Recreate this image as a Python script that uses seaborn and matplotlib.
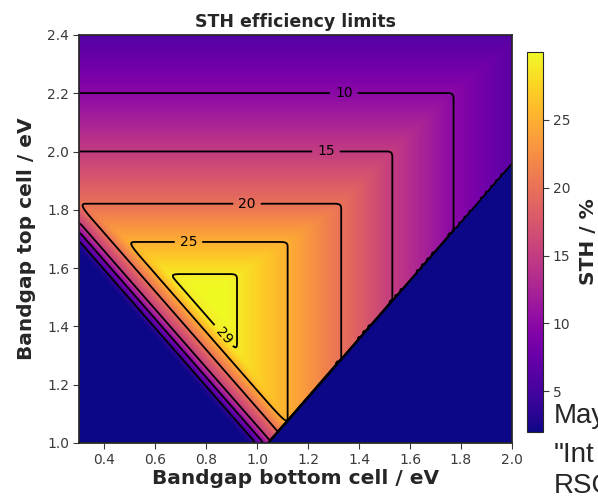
import numpy as np
import matplotlib
matplotlib.use('Agg')
import matplotlib.pyplot as plt
import seaborn as sns

# STH limit set by the top cell
top_gap = [1.0, 1.2, 1.4, 1.5, 1.58, 1.69, 1.82, 2.0, 2.2, 2.4]
top_sth = [45, 40, 34, 31.5, 29, 25, 20, 15, 10, 6]

# STH limit set by the bottom cell
bottom_gap = [0.3, 0.6, 0.8, 0.92, 1.12, 1.33, 1.53, 1.77, 2.0]
bottom_sth = [48, 38, 32, 29, 25, 20, 15, 10, 6.5]

# voltage limit vs. sum of both gaps (lower-left edge)
gap_sum = [1.97, 1.995, 2.025, 2.055, 2.12, 2.18, 2.23, 2.3, 4.5]
sum_sth = [2, 5, 10, 15, 20, 25, 29, 30, 30]

floor_sth = 2.0
overlap = 0.04   # top gap may sit this far below the bottom gap

plain_levels = [5]
label_levels = [10, 15, 20, 25, 29]
label_spots = [(1.34, 2.2), (1.27, 2.0), (0.96, 1.82), (0.73, 1.69), (0.87, 1.37)]

sns.set_theme(style='ticks')
plt.rcParams['font.family'] = ['DejaVu Sans']

eb = np.linspace(0.3, 2.0, 341)
et = np.linspace(1.0, 2.4, 281)
B, T = np.meshgrid(eb, et)
sth = np.minimum(np.interp(T, top_gap, top_sth), np.interp(B, bottom_gap, bottom_sth))
sth = np.minimum(sth, np.interp(B + T, gap_sum, sum_sth))

# round the corners a bit (small moving average)
k = np.ones(5) / 5
pad = np.pad(sth, 2, mode='edge')
pad = np.apply_along_axis(lambda r: np.convolve(r, k, mode='same'), 1, pad)
pad = np.apply_along_axis(lambda c: np.convolve(c, k, mode='same'), 0, pad)
sth = pad[2:-2, 2:-2]

sth[T < B - overlap] = floor_sth
sth = np.maximum(sth, floor_sth)

fig = plt.figure(figsize=(5.98, 4.97), dpi=100)
ax = fig.add_axes([0.132, 0.1087, 0.724, 0.8209])
cmap = sns.color_palette('plasma', as_cmap=True)
im = ax.imshow(sth, origin='lower', extent=[0.3, 2.0, 1.0, 2.4], aspect='auto',
               cmap=cmap, interpolation='bilinear')
ax.contour(B, T, sth, levels=plain_levels, colors='black', linewidths=1.3)
cs = ax.contour(B, T, sth, levels=label_levels, colors='black', linewidths=1.3)
ax.clabel(cs, inline=True, fmt='%d', fontsize=10, manual=label_spots)

ax.set_xlim(0.3, 2.0)
ax.set_ylim(1.0, 2.4)
ax.set_xticks([0.4, 0.6, 0.8, 1.0, 1.2, 1.4, 1.6, 1.8, 2.0])
ax.set_yticks([1.0, 1.2, 1.4, 1.6, 1.8, 2.0, 2.2, 2.4])
ax.tick_params(labelsize=10, colors='#3a3a3a', length=4, width=0.8, pad=3)
ax.set_xlabel('Bandgap bottom cell / eV', fontsize=14.5, fontweight='bold', labelpad=2)
ax.set_ylabel('Bandgap top cell / eV', fontsize=14.5, fontweight='bold', labelpad=8)
ax.set_title('STH efficiency limits', fontsize=12.5, fontweight='bold', pad=6)

cax = fig.add_axes([0.881, 0.131, 0.027, 0.764])
cb = fig.colorbar(im, cax=cax)
cb.set_ticks([5, 10, 15, 20, 25])
cb.ax.tick_params(labelsize=10, colors='#3a3a3a', length=4, width=0.8, pad=3)
cb.set_label('STH / %', fontsize=14.5, fontweight='bold', labelpad=6)
cb.outline.set_linewidth(0.8)

for txt, yy in [('May', 0.149), ('"Int', 0.0704), ('RSC', 0.008)]:
    fig.text(0.926, yy, txt, fontsize=20, family='Liberation Sans', va='baseline')

fig.savefig('out.png', dpi=100)
